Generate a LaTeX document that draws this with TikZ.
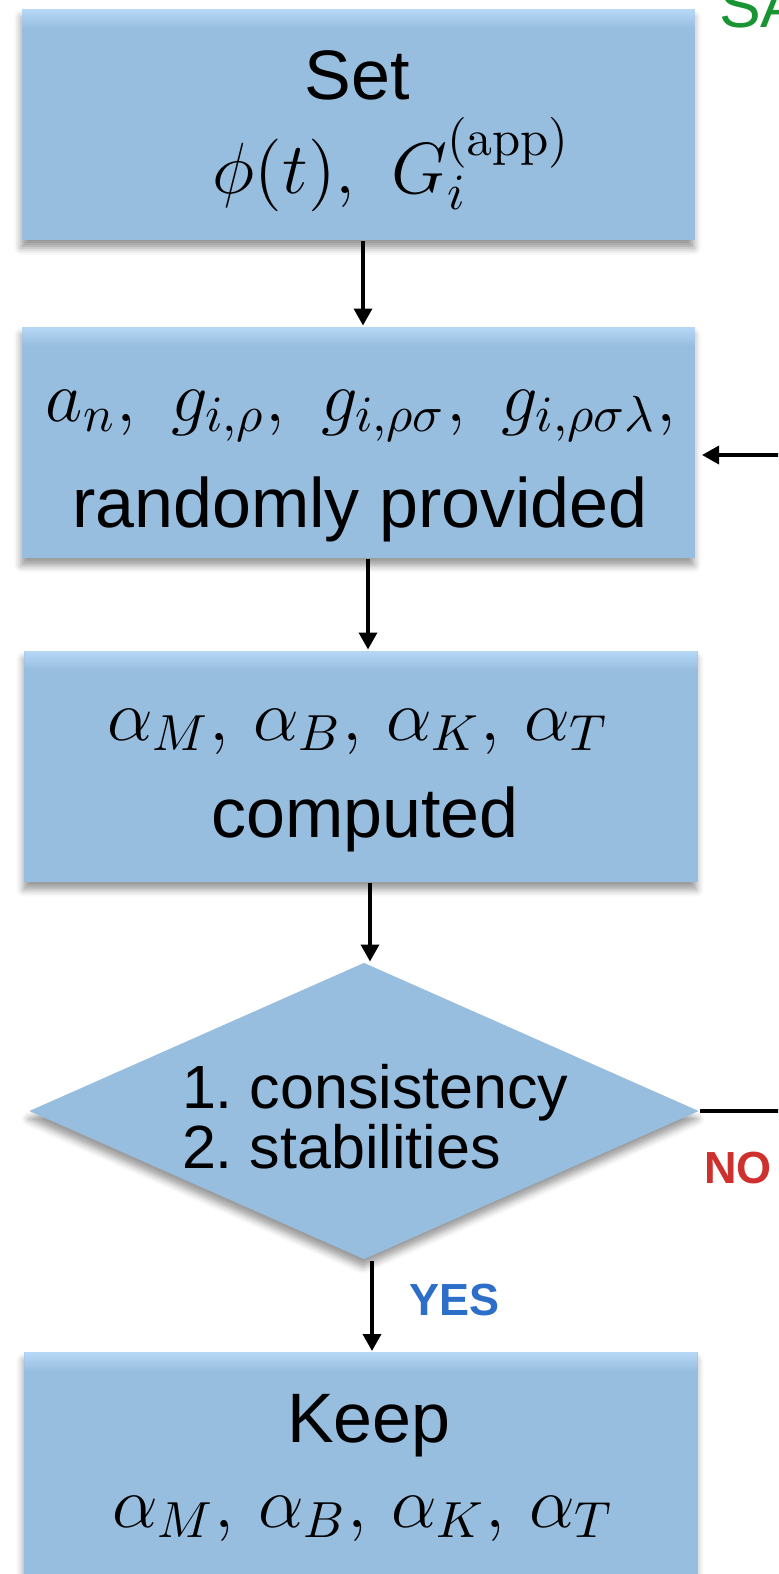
\RequirePackage{fix-cm}
\documentclass[tikz,border=0pt]{standalone}
\usepackage[no-math]{fontspec}
\newfontfamily\hv{Liberation Sans}
\usetikzlibrary{shapes.geometric,shadows.blur,arrows.meta}
\definecolor{boxfill}{RGB}{151,189,223}
\definecolor{boxtop}{RGB}{182,216,246}
\definecolor{yescol}{RGB}{45,110,200}
\definecolor{nocol}{RGB}{205,48,45}
\definecolor{sacol}{RGB}{25,148,50}
\frenchspacing
\tikzset{
  stepbox/.style={rectangle, fill=boxfill, inner sep=0pt, minimum width=134.6pt, minimum height=46.2pt,
    blur shadow={shadow xshift=-0.2pt, shadow yshift=-1.6pt, shadow blur radius=1.4pt, shadow opacity=40},
    path picture={
      \foreach \k [evaluate=\k as \pc using {int(100-8*\k)}] in {0,...,12}
        \fill[boxtop!\pc!boxfill] ([yshift=-\k*0.3pt]path picture bounding box.north west) rectangle ([yshift=-\k*0.3pt-0.32pt]path picture bounding box.north east);}},
  decbox/.style={diamond, fill=boxfill, inner sep=0pt, minimum width=134pt, minimum height=59.4pt,
    blur shadow={shadow xshift=-0.2pt, shadow yshift=-1.6pt, shadow blur radius=1.4pt, shadow opacity=40}},
  txt/.style={inner sep=0pt, anchor=base, font=\hv\fontsize{14}{16}\selectfont},
  mth/.style={inner sep=0pt, anchor=base, font=\fontsize{14.5}{17}\selectfont},
  dtxt/.style={inner sep=0pt, anchor=base west, font=\hv\fontsize{12.2}{14}\selectfont},
  arr/.style={-{Triangle[length=3.4pt,width=3.6pt]}, line width=0.7pt},
  lbl/.style={inner sep=0pt, anchor=base west, font=\hv\bfseries\fontsize{9}{10}\selectfont}
}
\begin{document}
\begin{tikzpicture}[x=0.2pt,y=-0.2pt]
\useasboundingbox (0,0) rectangle (778,1574);
\clip (0,0) rectangle (778,1574);
% boxes
\node[stepbox] (b1) at (358.5,124.5) {};
\node[stepbox] (b2) at (358.5,442) {};
\node[stepbox] (b3) at (361,766) {};
\node[decbox] (d) at (364,1111) {};
\node[stepbox, minimum height=50.4pt] (b5) at (361,1478) {};
% texts
\node[txt] (t1a) at (357,99) {Set};
\node[mth] (t1b) at (392,193) {$\phi(t),\ G_i^{(\mathrm{app})}$};
\node[mth] (t2a) at (361,421) {$a_n,\ g_{i,\rho},\ g_{i,\rho\sigma},\ g_{i,\rho\sigma\lambda},$};
\node[txt] (t2b) at (360,527) {randomly provided};
\node[mth] (t3a) at (358,740) {$\alpha_M,\,\alpha_B,\,\alpha_K,\,\alpha_T$};
\node[txt] (t3b) at (365,837) {computed};
\node[dtxt] (td1) at (181,1108) {1. consistency};
\node[dtxt] (td2) at (181,1168) {2. stabilities};
\node[txt] (t5a) at (369,1442) {Keep};
\node[mth] (t5b) at (363,1527) {$\alpha_M,\,\alpha_B,\,\alpha_K,\,\alpha_T$};
% labels
\node[lbl, text=yescol] (yes) at (408,1315) {YES};
\node[lbl, text=nocol] (no) at (703,1183) {NO};
\node[inner sep=0pt, anchor=base west, text=sacol, font=\hv\fontsize{12.5}{14}\selectfont] (sa) at (718,27) {SA};
% connectors
\coordinate (rin) at (790,455);
\coordinate (rout) at (790,1111);
\draw[arr] ([xshift=0.9pt]b1.south) -- ([xshift=0.9pt]b1.south |- b2.north);
\draw[arr] ([xshift=1.9pt]b2.south) -- ([xshift=1.9pt]b2.south |- b3.north);
\draw[arr] ([xshift=1.8pt]b3.south) -- ([xshift=1.8pt]b3.south |- d.north);
\draw[arr] ([xshift=1.6pt]d.south) -- ([xshift=1.6pt]d.south |- b5.north);
\draw[line width=0.7pt] (d.east) -- (rout);
\draw[arr, shorten >=1.2pt] (rin) -- (rin -| b2.east);
\end{tikzpicture}
\end{document}
